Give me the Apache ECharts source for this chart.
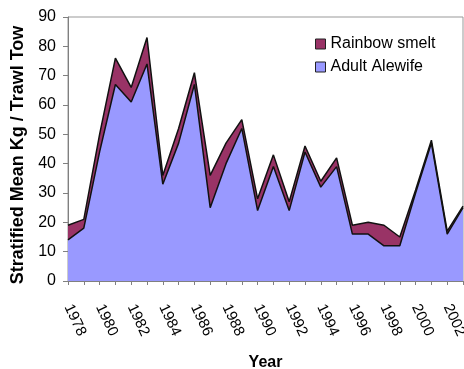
<!DOCTYPE html>
<html>
<head>
  <meta charset="utf-8">
  <title>Alewife and smelt</title>
  <script src="https://cdn.jsdelivr.net/npm/echarts/dist/echarts.min.js"></script>
  <style>
    html, body { margin: 0; padding: 0; background: #fff; }
    #main { width: 464px; height: 369px; }
  </style>
</head>
<body>
<div id="main"></div>
<script>
  const years = ['1978', '1979', '1980', '1981', '1982', '1983', '1984', '1985', '1986',
    '1987', '1988', '1989', '1990', '1991', '1992', '1993', '1994', '1995', '1996',
    '1997', '1998', '1999', '2000', '2001', '2002', '2003'];

  const alewife = [14, 18, 44, 67, 61, 74, 33, 47, 67, 25, 40, 52, 24, 39, 24, 44, 32, 39, 16,
    16, 12, 12, 30, 47, 16, 25];

  const smelt = [5, 3, 6, 9, 5, 9, 3, 5, 4, 11, 7, 3, 4, 4, 3, 2, 2, 3, 3,
    4, 7, 3, 1, 1, 1, 0.5];

  const font = 'Arial, "Liberation Sans", sans-serif';

  var myChart = echarts.init(document.getElementById('main'));

  var option = {
    animation: false,
    backgroundColor: '#fff',
    grid: {
      left: 68,
      right: 1,
      top: 17,
      bottom: 88,
      containLabel: false,
      outerBoundsMode: 'none',
      show: true,
      borderColor: '#999',
      borderWidth: 1
    },
    legend: {
      orient: 'vertical',
      left: 310,
      top: 31,
      itemWidth: 10,
      itemHeight: 10,
      itemGap: 7,
      icon: 'rect',
      data: ['Rainbow smelt', 'Adult Alewife'],
      itemStyle: { borderColor: '#222', borderWidth: 1 },
      textStyle: { fontFamily: font, fontSize: 16, color: '#000' }
    },
    xAxis: {
      type: 'category',
      data: years,
      boundaryGap: false,
      name: 'Year',
      nameLocation: 'middle',
      nameGap: 74,
      nameTextStyle: { fontFamily: font, fontSize: 16, fontWeight: 'bold', color: '#000' },
      axisLine: { lineStyle: { color: '#808080' } },
      axisTick: { interval: 0, length: 4, lineStyle: { color: '#808080' } },
      axisLabel: {
        interval: 1,
        rotate: -65,
        margin: 24,
        fontFamily: font,
        fontSize: 15,
        color: '#000'
      }
    },
    yAxis: {
      type: 'value',
      min: 0,
      max: 90,
      interval: 10,
      name: 'Stratified Mean Kg / Trawl Tow',
      nameLocation: 'middle',
      nameRotate: 90,
      nameGap: 40,
      nameTextStyle: {
        fontFamily: font, fontSize: 18, fontWeight: 'bold', color: '#000',
        padding: [0, 12, 0, 0]
      },
      axisLine: { show: true, lineStyle: { color: '#808080' } },
      axisTick: { show: true, length: 5, lineStyle: { color: '#808080' } },
      splitLine: { show: false },
      axisLabel: { fontFamily: font, fontSize: 16, color: '#000', margin: 12 }
    },
    series: [
      {
        name: 'Adult Alewife',
        type: 'line',
        stack: 'total',
        data: alewife,
        symbol: 'none',
        color: '#9999ff',
        lineStyle: { color: '#111', width: 1.5 },
        areaStyle: { color: '#9999ff', opacity: 1 },
        itemStyle: { color: '#9999ff' }
      },
      {
        name: 'Rainbow smelt',
        type: 'line',
        stack: 'total',
        data: smelt,
        symbol: 'none',
        color: '#993366',
        lineStyle: { color: '#111', width: 1.5 },
        areaStyle: { color: '#993366', opacity: 1 },
        itemStyle: { color: '#993366' }
      }
    ]
  };

  myChart.setOption(option);
</script>
</body>
</html>
